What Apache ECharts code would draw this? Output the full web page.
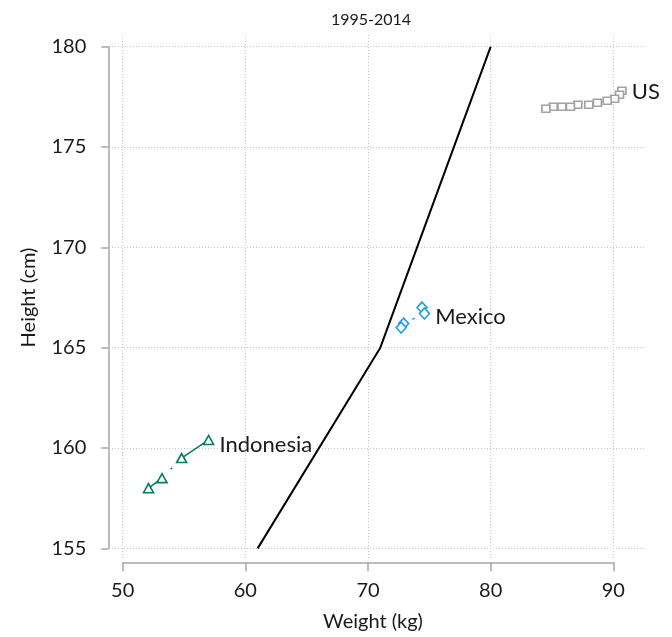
<!DOCTYPE html>
<html>
<head>
<meta charset="utf-8">
<script src="https://cdn.jsdelivr.net/npm/echarts@6/dist/echarts.min.js"></script>
<style>
  html, body { margin: 0; padding: 0; background: #fff; }
  #chart { width: 672px; height: 637px; }
</style>
</head>
<body>
<div id="chart"></div>
<script>
// Tick values for both axes
const weightTicks = [50, 60, 70, 80, 90];
const heightTicks = [155, 160, 165, 170, 175, 180];

// Reference curve (black line)
const refWeight = [61, 71, 80];
const refHeight = [155, 165, 180];

// Country paths, latest year first
const indonesiaWeight = [57.0, 54.8, 53.2, 52.1];
const indonesiaHeight = [160.4, 159.5, 158.5, 158.0];

const mexicoWeight = [74.4, 74.6, 72.9, 72.7];
const mexicoHeight = [167.0, 166.7, 166.2, 166.0];

const usWeight = [90.7, 90.5, 90.1, 89.5, 88.7, 88.0, 87.1, 86.5, 85.8, 85.1, 84.5];
const usHeight = [177.8, 177.6, 177.4, 177.3, 177.2, 177.1, 177.1, 177.0, 177.0, 177.0, 176.9];

const FONT = 'Lato';
const TEXT = '#1a1a1a';
const AXIS = '#a6a6a6';
const GRID = '#c8c8c8';

function pairs(xs, ys) { return xs.map((x, i) => [x, ys[i]]); }

function countrySeries(opts) {
  const { name, xs, ys, color, symbol, size, dash, dashOffset, labelIndex, labelOffset } = opts;
  const data = pairs(xs, ys).map((p, i) => i === labelIndex
    ? { value: p, label: { show: true, position: 'right', distance: 5, offset: labelOffset,
        formatter: name, color: TEXT, fontFamily: FONT, fontSize: 22 } }
    : p);
  return {
    type: 'line', name, xAxisIndex: 0, yAxisIndex: 0, data,
    symbol, symbolSize: size, showSymbol: true,
    itemStyle: { color: '#fff', borderColor: color, borderWidth: 1.6 },
    lineStyle: { color, width: 1.5, type: dash, dashOffset: dashOffset },
    emphasis: { disabled: true }, animation: false, z: 3
  };
}

const chart = echarts.init(document.getElementById('chart'), null, { renderer: 'canvas' });

chart.setOption({
  backgroundColor: '#fff',
  animation: false,
  title: {
    text: '1995-2014', left: 366, top: 7, textAlign: 'center',
    textStyle: { fontFamily: FONT, fontSize: 16, fontWeight: 'normal', color: TEXT }
  },
  grid: [
    // plot region with gridlines and data
    { left: 109, right: 27, top: 35, bottom: 77 },
    // axis frame spanning the first to last tick
    { left: 122.7, right: 58.7, top: 46.7, bottom: 88.7 }
  ],
  xAxis: [
    {
      type: 'value', gridIndex: 0, min: 48.88, max: 92.58,
      axisLine: { show: false },
      axisTick: { show: false, customValues: weightTicks },
      axisLabel: { show: false, customValues: weightTicks },
      splitLine: { show: true, lineStyle: { color: GRID, width: 1, type: [1, 2] } }
    },
    {
      type: 'value', gridIndex: 1, min: 50, max: 90, interval: 10, offset: 14,
      name: 'Weight (kg)', nameLocation: 'middle', nameGap: 49,
      nameTextStyle: { fontFamily: FONT, fontSize: 20, color: TEXT, padding: [0, 0, 0, 10] },
      axisLine: { show: true, lineStyle: { color: AXIS, width: 1.5 } },
      axisTick: { show: true, length: 9, lineStyle: { color: AXIS, width: 1.5 } },
      axisLabel: { fontFamily: FONT, fontSize: 20, color: TEXT, margin: 18 },
      splitLine: { show: false }
    }
  ],
  yAxis: [
    {
      type: 'value', gridIndex: 0, min: 154.42, max: 180.58,
      axisLine: { show: false },
      axisTick: { show: false, customValues: heightTicks },
      axisLabel: { show: false, customValues: heightTicks },
      splitLine: { show: true, lineStyle: { color: GRID, width: 1, type: [1, 2] } }
    },
    {
      type: 'value', gridIndex: 1, min: 155, max: 180, interval: 5, offset: 14.4,
      name: 'Height (cm)', nameLocation: 'middle', nameGap: 70,
      nameTextStyle: { fontFamily: FONT, fontSize: 20, color: TEXT },
      axisLine: { show: true, lineStyle: { color: AXIS, width: 1.5 } },
      axisTick: { show: true, length: 7, lineStyle: { color: AXIS, width: 1.5 } },
      axisLabel: { fontFamily: FONT, fontSize: 20, color: TEXT, margin: 22 },
      splitLine: { show: false }
    }
  ],
  series: [
    {
      type: 'line', name: 'reference', xAxisIndex: 0, yAxisIndex: 0,
      data: pairs(refWeight, refHeight), showSymbol: false, symbol: 'none',
      lineStyle: { color: '#000', width: 2 }, emphasis: { disabled: true }, z: 2
    },
    countrySeries({ name: 'US', xs: usWeight, ys: usHeight, color: '#a3a3a3',
      symbol: 'rect', size: [8, 7], dash: [35, 11, 2, 12], dashOffset: 0,
      labelIndex: 0, labelOffset: [0, 1] }),
    countrySeries({ name: 'Mexico', xs: mexicoWeight, ys: mexicoHeight, color: '#1f9ee6',
      symbol: 'diamond', size: [10, 11], dash: [3, 12], dashOffset: -2,
      labelIndex: 1, labelOffset: [0, 3] }),
    countrySeries({ name: 'Indonesia', xs: indonesiaWeight, ys: indonesiaHeight, color: '#00805f',
      symbol: 'triangle', size: [10, 9], dash: [35, 11, 2, 12], dashOffset: 0,
      labelIndex: 0, labelOffset: [0, 5] })
  ]
});
</script>
</body>
</html>
